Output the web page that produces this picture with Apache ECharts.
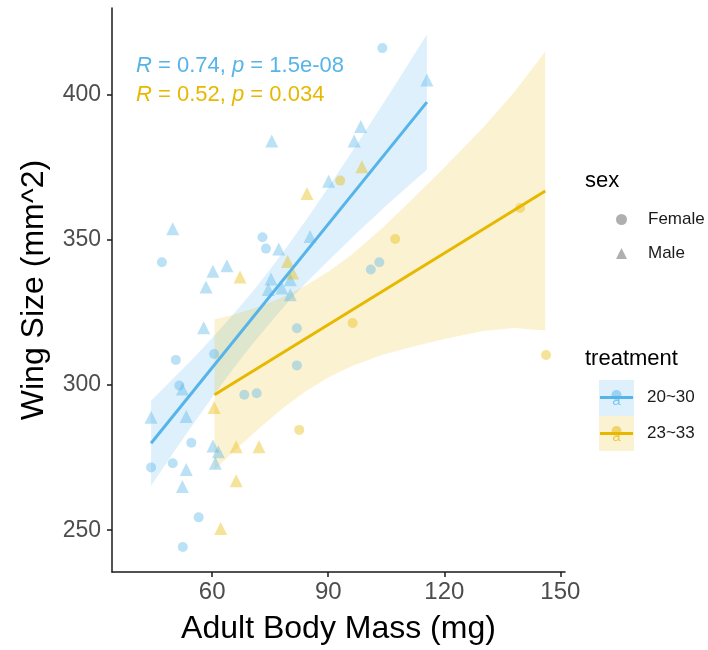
<!DOCTYPE html>
<html>
<head>
<meta charset="utf-8">
<script src="https://cdn.jsdelivr.net/npm/echarts@6/dist/echarts.min.js"></script>
<style>
  html, body { margin: 0; padding: 0; background: #fff; }
  #main { width: 708px; height: 650px; }
</style>
</head>
<body>
<div id="main"></div>
<script>
// points: [body mass (mg), wing size (mm^2)]
const t2030Female = [
  [47.0, 342.2], [73.0, 350.8], [73.9, 346.9], [81.9, 319.5], [50.6, 308.6],
  [60.5, 310.6], [81.9, 306.7], [51.5, 299.8], [68.3, 296.6], [71.5, 297.1],
  [54.6, 280.1], [44.2, 271.6], [49.8, 273.0], [56.5, 254.4], [52.4, 244.2],
  [104.0, 415.9], [101.0, 339.7], [103.2, 342.2]
];
const t2030Male = [
  [49.8, 353.7], [77.2, 346.8], [85.3, 351.1], [63.8, 341.0], [60.2, 339.1],
  [58.4, 333.7], [75.2, 336.4], [80.2, 336.2], [74.5, 332.8], [78.0, 333.3],
  [80.2, 331.0], [57.8, 319.7], [52.3, 298.6], [44.2, 288.9], [53.3, 289.1],
  [60.2, 279.0], [61.6, 277.0], [53.3, 270.9], [60.8, 273.0], [52.3, 265.0],
  [75.4, 383.9], [98.4, 388.9], [96.7, 383.9], [90.1, 370.1], [115.5, 404.9]
];
const t2333Female = [
  [82.5, 284.5], [96.3, 321.3], [107.3, 350.2], [93.1, 370.3], [139.6, 360.9],
  [146.3, 310.3]
];
const t2333Male = [
  [60.5, 292.2], [66.2, 278.7], [72.1, 278.7], [66.2, 267.0], [62.2, 250.6],
  [67.2, 337.1], [79.5, 342.5], [80.8, 338.5], [84.5, 365.9], [98.7, 375.1]
];

// regression lines (ends) and confidence bands [x, lower, upper]
const fit2030 = [[44.2, 279.9], [115.5, 397.3]];
const fit2333 = [[60.6, 296.6], [146.1, 366.7]];
const band2030 = [
  [44.2, 265.3, 294.5], [50, 276.7, 302.3], [55, 286.4, 309.0], [60, 295.7, 316.1],
  [65, 304.8, 323.6], [70, 313.4, 331.4], [75, 321.4, 339.8], [80, 329.1, 348.7],
  [85, 336.1, 358.1], [90, 342.7, 367.9], [98, 353.0, 384.0], [106, 362.9, 400.5],
  [115.5, 374.0, 420.6]
];
const band2333 = [
  [60.6, 270.7, 322.5], [66, 277.7, 324.3], [72, 284.9, 326.9], [78, 291.7, 330.1],
  [84, 297.6, 334.0], [90, 302.5, 338.9], [96, 306.4, 344.8], [104, 310.4, 354.0],
  [112, 313.2, 364.2], [120, 315.8, 374.8], [130, 318.5, 388.5], [138, 319.6, 400.6],
  [146.1, 318.7, 414.7]
];

const xTicks = [60, 90, 120, 150];
const yTicks = [250, 300, 350, 400];
const treatments = ['20~30', '23~33'];
const corLabels = ['{i|R} = 0.74, {i|p} = 1.5e-08', '{i|R} = 0.52, {i|p} = 0.034'];

const blue = '#56B4E9';
const yellow = '#E7B800';
const blueA = 'rgba(86,180,233,0.5)';
const yellowA = 'rgba(231,184,0,0.5)';
const blueBand = 'rgba(86,180,233,0.2)';
const yellowBand = 'rgba(231,184,0,0.18)';

function colored(points, color) {
  return points.map(p => ({ value: p, itemStyle: { color: color } }));
}

function bandSeries(rows, color) {
  return {
    type: 'custom',
    data: rows,
    encode: { x: 0, y: [1, 2] },
    silent: true,
    renderItem: function (params, api) {
      if (params.dataIndex !== 0) return null;
      const top = rows.map(r => api.coord([r[0], r[2]]));
      const bottom = rows.slice().reverse().map(r => api.coord([r[0], r[1]]));
      return {
        type: 'polygon',
        shape: { points: top.concat(bottom) },
        style: { fill: color }
      };
    }
  };
}

const chart = echarts.init(document.getElementById('main'), null, { renderer: 'canvas' });

const font = 'Liberation Sans, Arial, sans-serif';

const option = {
  animation: false,
  textStyle: { fontFamily: font },
  grid: { left: 112, right: 143, top: 8, bottom: 77 },
  xAxis: {
    type: 'value',
    min: 34.1,
    max: 151.2,
    name: 'Adult Body Mass (mg)',
    nameLocation: 'middle',
    nameGap: 41,
    nameTextStyle: { fontSize: 32, color: '#000', fontFamily: font, verticalAlign: 'top' },
    axisLine: { show: true, lineStyle: { color: '#1a1a1a', width: 1.5 } },
    axisTick: { show: true, length: 5, customValues: xTicks, lineStyle: { color: '#1a1a1a', width: 1.5 } },
    axisLabel: { customValues: xTicks, fontSize: 24, color: '#4d4d4d', margin: 8, fontFamily: font },
    splitLine: { show: false }
  },
  yAxis: {
    type: 'value',
    min: 235.6,
    max: 429.7,
    name: 'Wing Size (mm^2)',
    nameLocation: 'middle',
    nameGap: 62,
    nameTextStyle: { fontSize: 32, color: '#000', fontFamily: font },
    axisLine: { show: true, lineStyle: { color: '#1a1a1a', width: 1.5 } },
    axisTick: { show: true, length: 5, customValues: yTicks, lineStyle: { color: '#1a1a1a', width: 1.5 } },
    axisLabel: { customValues: yTicks, fontSize: 23, color: '#4d4d4d', margin: 11, fontFamily: font, padding: [4, 0, 0, 0] },
    splitLine: { show: false }
  },
  legend: {
    data: [{ name: 'Female', icon: 'circle' }, { name: 'Male', icon: 'triangle' }],
    orient: 'vertical',
    left: 611,
    top: 206,
    itemWidth: 11,
    itemHeight: 11,
    itemGap: 17,
    selectedMode: false,
    textStyle: { fontSize: 17, color: '#1a1a1a', fontFamily: font, padding: [0, 0, 0, 16] }
  },
  graphic: [
    { type: 'text', left: 585, top: 170, style: { text: 'sex', font: '22px ' + font, fill: '#000' } },
    { type: 'text', left: 585, top: 348, style: { text: 'treatment', font: '22px ' + font, fill: '#000' } },
    { type: 'rect', shape: { x: 599, y: 380, width: 35, height: 36 }, style: { fill: blueBand } },
    { type: 'rect', shape: { x: 599, y: 416, width: 35, height: 35 }, style: { fill: yellowBand } },
    { type: 'line', shape: { x1: 600, y1: 397.5, x2: 633, y2: 397.5 }, style: { stroke: blue, lineWidth: 3 } },
    { type: 'line', shape: { x1: 600, y1: 433.5, x2: 633, y2: 433.5 }, style: { stroke: yellow, lineWidth: 3 } },
    { type: 'circle', shape: { cx: 616.5, cy: 395, r: 5 }, style: { fill: blueA } },
    { type: 'circle', shape: { cx: 616.5, cy: 431, r: 5 }, style: { fill: yellowA } },
    { type: 'text', x: 616.5, y: 401, style: { text: 'a', font: '15px ' + font, fill: blue, opacity: 0.7, align: 'center', verticalAlign: 'middle' } },
    { type: 'text', x: 616.5, y: 437, style: { text: 'a', font: '15px ' + font, fill: yellow, opacity: 0.7, align: 'center', verticalAlign: 'middle' } },
    { type: 'text', x: 647, y: 397.5, style: { text: treatments[0], font: '17px ' + font, fill: '#1a1a1a', verticalAlign: 'middle' } },
    { type: 'text', x: 647, y: 433.5, style: { text: treatments[1], font: '17px ' + font, fill: '#1a1a1a', verticalAlign: 'middle' } },
    {
      type: 'text', x: 136, y: 66,
      style: { text: corLabels[0], font: '22px ' + font, fill: blue, verticalAlign: 'middle',
        rich: { i: { fontStyle: 'italic', fontSize: 22, fontFamily: font } } }
    },
    {
      type: 'text', x: 136, y: 95,
      style: { text: corLabels[1], font: '22px ' + font, fill: yellow, verticalAlign: 'middle',
        rich: { i: { fontStyle: 'italic', fontSize: 22, fontFamily: font } } }
    }
  ],
  series: [
    {
      name: 'Female',
      type: 'scatter',
      symbol: 'circle',
      symbolSize: 10,
      itemStyle: { color: '#9b9b9b' },
      data: colored(t2030Female, blueA).concat(colored(t2333Female, yellowA))
    },
    {
      name: 'Male',
      type: 'scatter',
      symbol: 'triangle',
      symbolSize: 13,
      itemStyle: { color: '#9b9b9b' },
      data: colored(t2030Male, blueA).concat(colored(t2333Male, yellowA))
    },
    bandSeries(band2030, blueBand),
    bandSeries(band2333, yellowBand),
    {
      name: treatments[0],
      type: 'line',
      data: fit2030,
      showSymbol: false,
      silent: true,
      lineStyle: { color: blue, width: 3 }
    },
    {
      name: treatments[1],
      type: 'line',
      data: fit2333,
      showSymbol: false,
      silent: true,
      lineStyle: { color: yellow, width: 3 }
    }
  ]
};

chart.setOption(option);
</script>
</body>
</html>
